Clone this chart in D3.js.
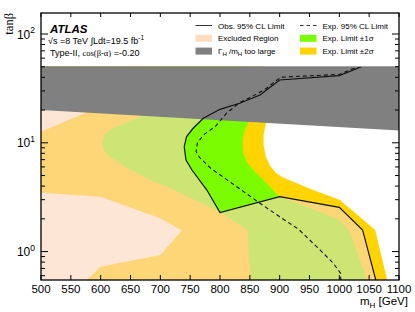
<!DOCTYPE html>
<html>
<head>
<meta charset="utf-8">
<script src="https://cdn.jsdelivr.net/npm/d3@7"></script>
<style>
body { margin: 0; background: #fff; }
svg { display: block; font-family: "Liberation Sans", Arial, sans-serif; }
</style>
</head>
<body>
<svg id="chart" width="415" height="312"></svg>
<script>
// m_H [GeV] and tan(beta) pairs
const massTicks = d3.range(500, 1101, 50);
const massRange = [500, 1100];
const tanbRange = [0.548, 156];
const tanbMajor = [1, 10, 100];
const tanbCeiling = 50;

const obsLimit = [[1037,50],[1000,41.4],[900,37.8],[889,34.0],[867,27.5],[833,23.1],[800,20.3],[772,16.8],[755,13.6],[744,11.4],[740,9.2],[743,6.95],[753,5.62],[778,3.68],[800,2.28],[900,3.2],[1000,2.55],[1039,1.58],[1063,0.5]];
const expLimit = [[1037,50],[1021,47.7],[1001,42.6],[902,40.1],[889,35.5],[878,31.7],[853,26.5],[833,23.4],[811,18.7],[792,14.1],[772,11.8],[762,9.9],[760,8.28],[765,7.4],[785,5.8],[828,3.95],[867,2.78],[900,2.09],[932,1.6],[968,1.03],[990,0.78],[1002,0.632],[1003,0.5]];
const expMinus2 = [[874,22.3],[877,15.2],[873,11.8],[873,9.55],[877,7.4],[884,6.12],[894,5.28],[904,4.85],[956,3.68],[1001,2.98],[1060,1.58],[1082,0.5]];
const expMinus1 = [[849,22.3],[849,16.2],[840,12.3],[838,10.2],[839,8.06],[846,6.52],[859,5.39],[873,4.55],[898,3.25],[998,1.99],[1018,1.51],[1049,0.5]];
const expPlus1 = [[683,22.7],[666,17.4],[641,15.2],[621,13.6],[607,11.9],[602,10.2],[604,8.96],[611,7.72],[644,5.87],[683,4.55],[716,3.84],[800,2.31],[846,1.58],[852,0.5]];
const expPlus2Upper = [[632,24.7],[574,18.8],[500,12.65],[440,10.6]];
const expPlus2Lower = [[440,3.6],[500,3.48],[600,3.2],[700,2.02],[736,1.56],[700,0.93],[600,0.727],[569,0.5]];
const widthTooLarge = [[500,20.0],[1100,13.0]];

const col = {
	yellow: "#ffd400", green: "#7cfc00",
	mYellow: "#fdd678", mGreen: "#cde673", peach: "#fee6d6",
	peachKey: "#fddcc0", gray: "#808080"
};

const svg = d3.select("#chart");
const x = d3.scaleLinear().domain(massRange).range([41, 399]);
const y = d3.scaleLog().domain(tanbRange).range([280, 13]);
const line = d3.line().x(d => x(d[0])).y(d => y(d[1]));

// region to the left of a contour that runs from top to bottom
function leftOf(c) {
	let first = c[0], last = c[c.length - 1];
	return [[first[0], 80], ...c, [last[0], 0.3], [300, 0.3], [300, 80]];
}

const defs = svg.append("defs");
defs.append("clipPath").attr("id", "plotClip")
	.append("rect")
	.attr("x", x(massRange[0])).attr("y", y(tanbCeiling))
	.attr("width", x(massRange[1]) - x(massRange[0]))
	.attr("height", y(tanbRange[0]) - y(tanbCeiling));
defs.append("clipPath").attr("id", "exclClip")
	.append("path").attr("d", line(leftOf(obsLimit)) + "Z");

const plot = svg.append("g").attr("clip-path", "url(#plotClip)");

function drawBands(g, c1, c2, base) {
	if (base) {
		g.append("rect").attr("x", 0).attr("y", 0).attr("width", 415).attr("height", 312).attr("fill", base);
	}
	g.append("path").attr("d", line(leftOf(expMinus2)) + "Z").attr("fill", c1);
	g.append("path").attr("d", line(leftOf(expMinus1)) + "Z").attr("fill", c2);
	g.append("path").attr("d", line(leftOf(expPlus1)) + "Z").attr("fill", c1);
	g.append("path").attr("d", line([...expPlus2Upper, [440, 80], [632, 80]]) + "Z").attr("fill", base || "#fff");
	g.append("path").attr("d", line([...expPlus2Lower, [440, 0.5]]) + "Z").attr("fill", base || "#fff");
}
drawBands(plot, col.yellow, col.green, null);
drawBands(plot.append("g").attr("clip-path", "url(#exclClip)"), col.mYellow, col.mGreen, col.peach);

// Gamma_H / m_H too large
plot.append("path")
	.attr("d", line([[500, tanbCeiling], [1100, tanbCeiling], ...widthTooLarge.slice().reverse()]) + "Z")
	.attr("fill", col.gray);
svg.append("line")
	.attr("x1", x(500)).attr("x2", x(1100)).attr("y1", y(tanbCeiling)).attr("y2", y(tanbCeiling))
	.attr("stroke", "#6e6e6e").attr("stroke-width", 0.8);

plot.append("path").attr("d", line(expLimit)).attr("fill", "none")
	.attr("stroke", "#111").attr("stroke-width", 1.1).attr("stroke-dasharray", "4,3");
plot.append("path").attr("d", line(obsLimit)).attr("fill", "none")
	.attr("stroke", "#111").attr("stroke-width", 1.2);

// frame and ticks
const axes = svg.append("g").attr("stroke", "#000").attr("stroke-width", 1);
massTicks.forEach(m => {
	axes.append("line").attr("x1", x(m)).attr("x2", x(m)).attr("y1", 280).attr("y2", 275);
	axes.append("line").attr("x1", x(m)).attr("x2", x(m)).attr("y1", 13).attr("y2", 17);
});
let minor = [];
[0.1, 1, 10, 100].forEach(dec => d3.range(2, 10).forEach(k => {
	let v = dec * k;
	if (v > tanbRange[0] && v < tanbRange[1]) minor.push(v);
}));
minor.forEach(v => {
	axes.append("line").attr("x1", 41).attr("x2", 45).attr("y1", y(v)).attr("y2", y(v));
	axes.append("line").attr("x1", 399).attr("x2", 395).attr("y1", y(v)).attr("y2", y(v));
});
tanbMajor.forEach(v => {
	axes.append("line").attr("x1", 41).attr("x2", 48).attr("y1", y(v)).attr("y2", y(v));
	axes.append("line").attr("x1", 399).attr("x2", 392).attr("y1", y(v)).attr("y2", y(v));
});
svg.append("rect").attr("x", 41).attr("y", 13).attr("width", 358).attr("height", 267)
	.attr("fill", "none").attr("stroke", "#000").attr("stroke-width", 1.3);

// tick labels
svg.selectAll(".xlab").data(massTicks).enter().append("text")
	.attr("class", "xlab").attr("x", d => x(d)).attr("y", 293)
	.attr("text-anchor", "middle").attr("font-size", 11.5).text(d => d);
tanbMajor.forEach(v => {
	let t = svg.append("text").attr("x", 35).attr("y", y(v) + 4.5)
		.attr("text-anchor", "end").attr("font-size", 12);
	t.append("tspan").text("10");
	t.append("tspan").attr("dy", -5.5).attr("font-size", 8.5).text(Math.round(Math.log10(v)));
});

// axis titles
let xt = svg.append("text").attr("x", 408).attr("y", 305).attr("text-anchor", "end").attr("font-size", 11.5);
xt.append("tspan").text("m");
xt.append("tspan").attr("dy", 2.5).attr("font-size", 8).text("H");
xt.append("tspan").attr("dy", -2.5).text(" [GeV]");
svg.append("text").attr("transform", "translate(13,13) rotate(-90)")
	.attr("text-anchor", "end").attr("font-size", 12.5)
	.attr("font-family", "'Liberation Serif', serif").text("tanβ");

// ATLAS label
svg.append("text").attr("x", 50).attr("y", 32.5).attr("font-size", 11.5)
	.attr("font-weight", "bold").attr("font-style", "italic").text("ATLAS");
let l2 = svg.append("text").attr("x", 48).attr("y", 43.5).attr("font-size", 9);
l2.append("tspan").text("√s =8 TeV ∫Ldt=19.5 fb");
l2.append("tspan").attr("dy", -3.5).attr("font-size", 6.5).text("-1");
let l3 = svg.append("text").attr("x", 50).attr("y", 55.5).attr("font-size", 9);
l3.append("tspan").text("Type-II, ");
l3.append("tspan").attr("font-family", "'Liberation Serif', serif").attr("font-size", 8.5).text("cos(β-α)");
l3.append("tspan").text(" =-0.20");

// legend
const legendLeft = [
	{ kind: "line", label: "Obs. 95% CL Limit" },
	{ kind: "box", fill: col.peachKey, label: "Excluded Region" },
	{ kind: "box", fill: col.gray, label: "width" }
];
const legendRight = [
	{ kind: "dash", label: "Exp. 95% CL Limit" },
	{ kind: "box", fill: col.green, label: "Exp. Limit ±1σ" },
	{ kind: "box", fill: col.yellow, label: "Exp. Limit ±2σ" }
];
function drawLegend(items, x0) {
	items.forEach((it, i) => {
		let yc = 25.5 + i * 12.8;
		if (it.kind === "box") {
			svg.append("rect").attr("x", x0).attr("y", yc - 3.5).attr("width", 16.5).attr("height", 7).attr("fill", it.fill);
		} else {
			svg.append("line").attr("x1", x0).attr("x2", x0 + 16.5).attr("y1", yc).attr("y2", yc)
				.attr("stroke", "#333").attr("stroke-width", 1)
				.attr("stroke-dasharray", it.kind === "dash" ? "3.5,3" : null);
		}
		let t = svg.append("text").attr("x", x0 + 22.5).attr("y", yc + 3).attr("font-size", 8);
		if (it.label === "width") {
			t.append("tspan").text("Γ");
			t.append("tspan").attr("dy", 2).attr("font-size", 6).text("H");
			t.append("tspan").attr("dy", -2).text(" /m");
			t.append("tspan").attr("dy", 2).attr("font-size", 6).text("H");
			t.append("tspan").attr("dy", -2).text("  too large");
		} else {
			t.text(it.label);
		}
	});
}
drawLegend(legendLeft, 195.5);
drawLegend(legendRight, 300);
</script>
</body>
</html>
